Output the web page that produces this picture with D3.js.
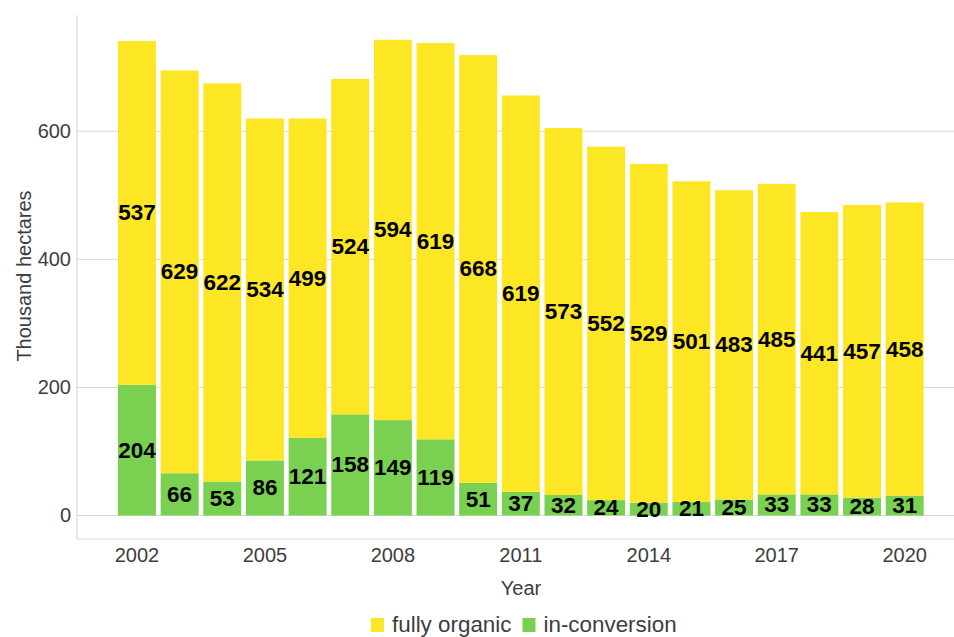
<!DOCTYPE html>
<html>
<head>
<meta charset="utf-8">
<script src="https://cdn.jsdelivr.net/npm/d3@7"></script>
<style>
  html, body { margin: 0; padding: 0; background: #fff; }
  svg { display: block; font-family: "Liberation Sans", Arial, Helvetica, sans-serif; }
</style>
</head>
<body>
<svg id="chart" width="954" height="637"></svg>
<script>
const years = [2002,2003,2004,2005,2006,2007,2008,2009,2010,2011,2012,2013,2014,2015,2016,2017,2018,2019,2020];
const fullyOrganic = [537,629,622,534,499,524,594,619,668,619,573,552,529,501,483,485,441,457,458];
const inConversion = [204,66,53,86,121,158,149,119,51,37,32,24,20,21,25,33,33,28,31];
const yTicks = [0,200,400,600];
const xTickYears = [2002,2005,2008,2011,2014,2017,2020];
const seriesNames = ["in-conversion","fully organic"];
const colors = {"fully organic":"#FDE725","in-conversion":"#7AD151"};

const svg = d3.select("#chart");
const W = 954;
const axisX = 77, axisBottom = 539, axisTop = 15;

const x = d3.scaleBand().domain(years).range([115.65, 926]).paddingInner(0.11).paddingOuter(0.055);
const y = d3.scaleLinear().domain([0, 600]).range([515.5, 131.3]);

// gridlines
svg.append("g").selectAll("line").data(yTicks).join("line")
  .attr("x1", axisX).attr("x2", W)
  .attr("y1", d => y(d)).attr("y2", d => y(d))
  .attr("stroke", "#d9d9d9").attr("stroke-width", 1);

// axis lines
svg.append("line").attr("x1", axisX).attr("x2", axisX).attr("y1", axisTop).attr("y2", axisBottom)
  .attr("stroke", "#d9d9d9").attr("stroke-width", 1.2);
svg.append("line").attr("x1", axisX).attr("x2", W).attr("y1", axisBottom).attr("y2", axisBottom)
  .attr("stroke", "#d9d9d9").attr("stroke-width", 1.2);

// stacked data
const table = years.map((yr, i) => ({year: yr, "in-conversion": inConversion[i], "fully organic": fullyOrganic[i]}));
const stack = d3.stack().keys(seriesNames)(table);

const layers = svg.append("g").selectAll("g").data(stack).join("g")
  .attr("fill", d => colors[d.key]);
layers.selectAll("rect").data(d => d).join("rect")
  .attr("x", d => x(d.data.year))
  .attr("width", x.bandwidth())
  .attr("y", d => y(d[1]))
  .attr("height", d => y(d[0]) - y(d[1]));

// labels
const lab = svg.append("g");
stack.forEach(layer => {
  lab.selectAll(null).data(layer).join("text")
    .attr("x", d => x(d.data.year) + x.bandwidth() / 2)
    .attr("y", d => (y(d[0]) + y(d[1])) / 2)
    .attr("text-anchor", "middle")
    .attr("dominant-baseline", "central")
    .attr("font-size", 22.5)
    .attr("font-weight", "bold")
    .attr("fill", "#000")
    .text(d => d[1] - d[0]);
});

// y axis tick labels
const yAxis = d3.axisLeft(y).tickValues(yTicks).tickSize(0).tickPadding(6);
const ya = svg.append("g").attr("transform", `translate(${axisX},0)`).call(yAxis);
ya.select(".domain").remove();
ya.selectAll("text").attr("font-size", 20).attr("fill", "#3d3d3d")
  .attr("font-family", "'Liberation Sans', Arial, sans-serif");

// x axis tick labels
const xAxis = d3.axisBottom(x).tickValues(xTickYears).tickSize(0).tickPadding(9);
const xa = svg.append("g").attr("transform", `translate(0,${axisBottom})`).call(xAxis);
xa.select(".domain").remove();
xa.selectAll("text").attr("font-size", 20).attr("fill", "#3d3d3d")
  .attr("font-family", "'Liberation Sans', Arial, sans-serif");

// axis titles
svg.append("text").attr("x", 521).attr("y", 595).attr("text-anchor", "middle")
  .attr("font-size", 20).attr("fill", "#3d3d3d").text("Year");
svg.append("text").attr("transform", "translate(31,276) rotate(-90)").attr("text-anchor", "middle")
  .attr("font-size", 20).attr("fill", "#3d3d3d").text("Thousand hectares");

// legend
const legendItems = ["fully organic", "in-conversion"];
const leg = svg.append("g");
let lx = 371;
legendItems.forEach(name => {
  leg.append("rect").attr("x", lx).attr("y", 618).attr("width", 13).attr("height", 14)
    .attr("fill", colors[name]);
  const t = leg.append("text").attr("x", lx + 21).attr("y", 632)
    .attr("font-size", 22.4).attr("fill", "#3d3d3d").text(name);
  lx += 21 + t.node().getComputedTextLength() + 11;
});
</script>
</body>
</html>
